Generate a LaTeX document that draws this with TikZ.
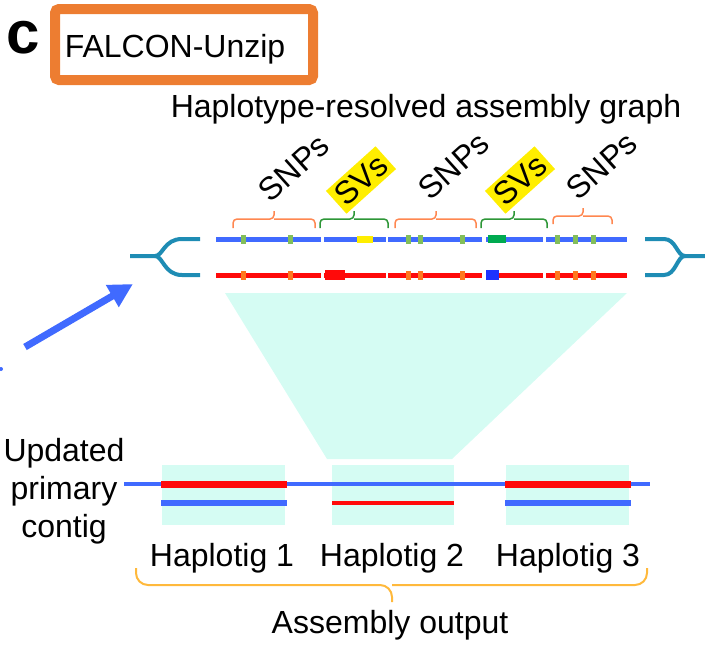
\documentclass[tikz,border=0pt]{standalone}
\usepackage{fontspec}
\setmainfont{Liberation Sans}
\usetikzlibrary{arrows.meta}
\definecolor{frameorange}{RGB}{237,125,49}
\definecolor{ctgblue}{RGB}{64,106,255}
\definecolor{ctgred}{RGB}{255,10,10}
\definecolor{snpgreen}{RGB}{130,190,90}
\definecolor{snporange}{RGB}{255,120,30}
\definecolor{svyellow}{RGB}{255,238,0}
\definecolor{svgreen}{RGB}{0,170,80}
\definecolor{svblue}{RGB}{30,50,255}
\definecolor{forkteal}{RGB}{30,140,180}
\definecolor{zoomcyan}{RGB}{213,252,243}
\definecolor{braceorange}{RGB}{255,135,80}
\definecolor{bracegreen}{RGB}{45,150,55}
\definecolor{bracegold}{RGB}{255,185,60}
\tikzset{
  lbl/.style={font=\fontsize{32}{38}\selectfont, inner sep=0pt},
  rotlbl/.style={font=\fontsize{32}{34}\selectfont, inner sep=0pt, rotate=42},
  brc/.style={line width=1.5pt, rounded corners=4pt},
  fork/.style={forkteal, line width=4pt},
}
\begin{document}
\begin{tikzpicture}[x=1pt,y=-1pt,>=latex]
\useasboundingbox (0,0) rectangle (705,654);

% panel letter and title box
\node[font=\fontsize{60}{60}\selectfont\bfseries, inner sep=0pt] (letter) at (23,38) {c};
\draw[frameorange, line width=10pt, rounded corners=4pt] (55,9) rectangle (313,80);
\node[lbl, anchor=base] (method) at (175,57) {FALCON-Unzip};

\node[lbl, anchor=base] (graphtitle) at (426,117) {Haplotype-resolved assembly graph};

% zoom region
\fill[zoomcyan] (225,293) -- (627,293) -- (452,459) -- (327,459) -- cycle;
\foreach \a/\b in {162/285,332/454,506/629}
{
    \fill[zoomcyan] (\a,465) rectangle (\b,525);
}

% forks
\draw[fork] (130,256) -- (155,256) .. controls (163,256) and (164,239) .. (182,239) -- (200,239);
\draw[fork] (155,256) .. controls (163,256) and (164,275) .. (182,275) -- (200,275);
\draw[fork] (705,256) -- (685,256) .. controls (677,256) and (676,239) .. (664,239) -- (645,239);
\draw[fork] (685,256) .. controls (677,256) and (676,275) .. (664,275) -- (645,275);

% haplotype strands
\foreach \a/\b in {216/321,324/386,388/482,486/543,546/627}
{
    \draw[ctgblue, line width=5pt] (\a,239) -- (\b,239);
    \draw[ctgred, line width=5pt] (\a,275) -- (\b,275);
}
\foreach \x in {243,290,408,420,462,557,575,593}
{
    \fill[snpgreen] (\x-2.5,234.5) rectangle (\x+2.5,243.5);
    \fill[snporange] (\x-2.5,270.5) rectangle (\x+2.5,279.5);
}
\fill[svyellow] (357,235.5) rectangle (373,242.5);
\fill[ctgred] (325,270) rectangle (345,280);
\fill[svgreen] (488,235) rectangle (506,243);
\fill[svblue] (486,270) rectangle (499,280);

% braces
\draw[brc, braceorange] (233,228) |- (274,219) -- (274,211) (274,219) -| (315,228);
\draw[brc, bracegreen] (320,228) |- (354,219) -- (354,211) (354,219) -| (388,228);
\draw[brc, braceorange] (395,228) |- (436,219) -- (436,211) (436,219) -| (476,228);
\draw[brc, bracegreen] (481,228) |- (514,219) -- (514,211) (514,219) -| (547,228);
\draw[brc, braceorange] (553,224) |- (583,216) -- (583,208) (583,216) -| (612,224);

\node[rotlbl] (snp1) at (294,168) {SNPs};
\node[rotlbl, fill=svyellow, inner sep=4pt] (sv1) at (361,180) {SVs};
\node[rotlbl] (snp2) at (454,166) {SNPs};
\node[rotlbl, fill=svyellow, inner sep=4pt] (sv2) at (520,180) {SVs};
\node[rotlbl] (snp3) at (602,166) {SNPs};

% arrow from primary graph
\draw[-{Triangle[length=24pt,width=24pt]}, ctgblue, line width=7pt] (25,347) -- (133,284);
\fill[ctgblue] (1,369) circle (2pt);

% updated primary contig and haplotigs
\node[lbl, align=center, anchor=base] (primary) at (64,537) {Updated\\primary\\contig};
\draw[ctgblue, line width=4pt] (124,484) -- (650,484);
\foreach \a/\b in {161/287,505/631}
{
    \draw[ctgred, line width=7pt] (\a,484) -- (\b,484);
    \draw[ctgblue, line width=6pt] (\a,503) -- (\b,503);
}
\draw[ctgred, line width=4pt] (332,503) -- (454,503);

\foreach \x/\n in {222/1,392/2,568/3}
{
    \node[lbl, anchor=base] (hap\n) at (\x,566) {Haplotig \n};
}
\draw[bracegold, line width=2pt, rounded corners=12pt] (136,568) |- (392,585) -- (392,602) (392,585) -| (647,568);
\node[lbl, anchor=base] (output) at (390,633) {Assembly output};

\end{tikzpicture}
\end{document}
